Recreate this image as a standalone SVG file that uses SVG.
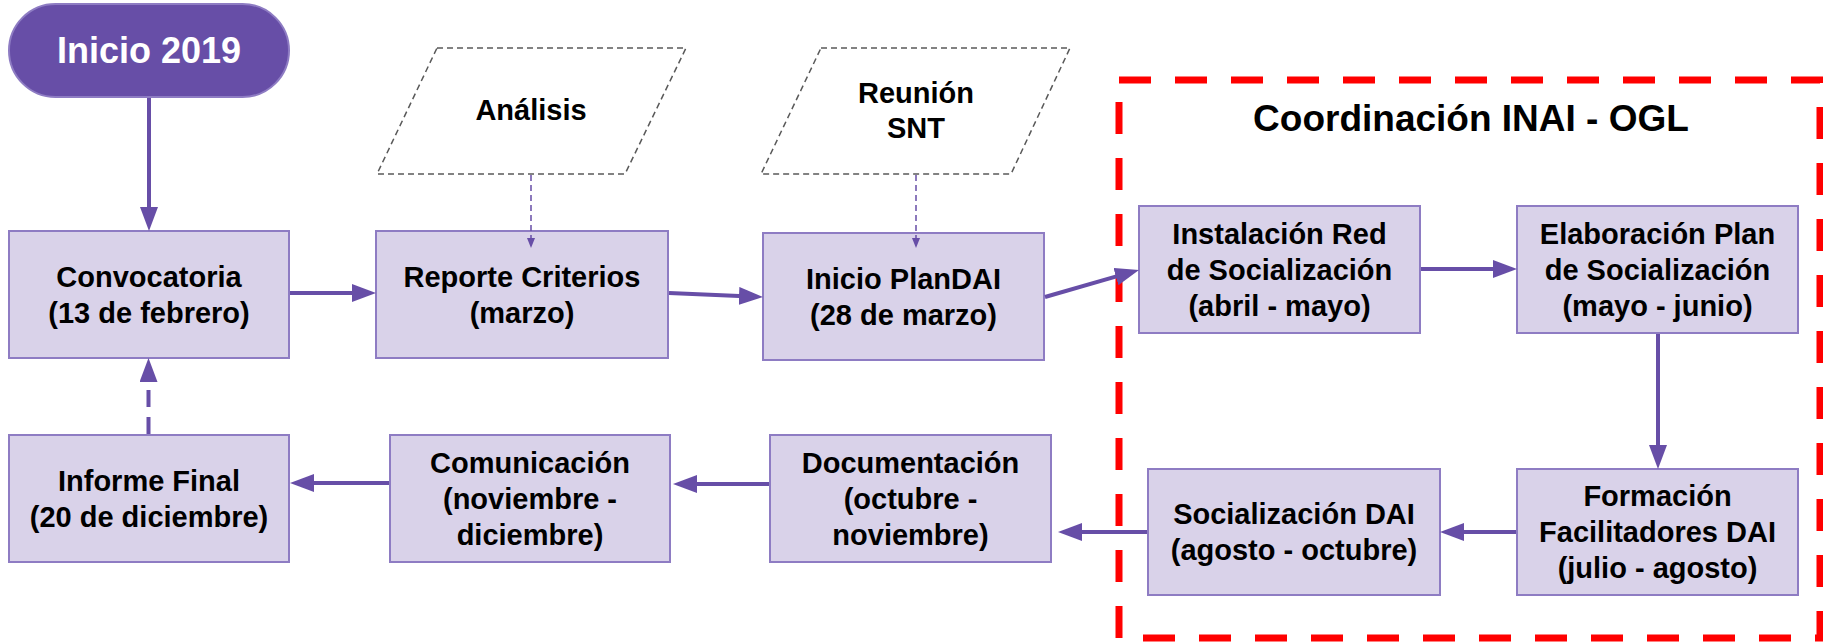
<svg xmlns="http://www.w3.org/2000/svg" width="1823" height="643" viewBox="0 0 1823 643">
<style>
.box{fill:#d9d2e9;stroke:#8e7cc3;stroke-width:2}
.t{font-family:"Liberation Sans",Arial,sans-serif;font-weight:bold;font-size:29px;text-anchor:middle;fill:#000}
.conn{stroke:#674ea7;stroke-width:4;fill:none}
.thin{stroke:#674ea7;stroke-width:1.5;fill:none;stroke-dasharray:6 4}
.para{fill:#fff;stroke:#595959;stroke-width:1.5;stroke-dasharray:6 4}
</style>
<defs>
<marker id="ah" markerUnits="userSpaceOnUse" markerWidth="24" markerHeight="18" refX="6" refY="9" orient="auto"><path d="M0,0 L24,9 L0,18 z" fill="#674ea7"/></marker>
<marker id="ahs" markerUnits="userSpaceOnUse" markerWidth="10" markerHeight="8" refX="2" refY="4" orient="auto"><path d="M0,0 L10,4 L0,8 z" fill="#674ea7"/></marker>
</defs>

<rect x="1119" y="80" width="701" height="558" fill="none" stroke="#ff0000" stroke-width="7" stroke-dasharray="32 24"/>
<text class="t" x="1471" y="131" style="font-size:37px">Coordinación INAI - OGL</text>

<g id="inicio">
<rect x="9" y="4" width="280" height="93" rx="46.5" fill="#674ea7" stroke="#8e7cc3" stroke-width="2"/>
<text class="t" x="149" y="63" style="font-size:36px;fill:#fff">Inicio 2019</text>
</g>

<g id="analisis">
<polygon class="para" points="437,48 686,48 625,174 377,174"/>
<text class="t" x="531" y="120">Análisis</text>
</g>

<g id="reunion">
<polygon class="para" points="821,48 1070,48 1011,174 761,174"/>
<text class="t" x="916" y="103">Reunión</text>
<text class="t" x="916" y="138">SNT</text>
</g>

<g id="convocatoria">
<rect class="box" x="9" y="231" width="280" height="127"/>
<text class="t" x="149" y="286.5">Convocatoria</text>
<text class="t" x="149" y="322.5">(13 de febrero)</text>
</g>

<g id="reporte">
<rect class="box" x="376" y="231" width="292" height="127"/>
<text class="t" x="522" y="286.5">Reporte Criterios</text>
<text class="t" x="522" y="322.5">(marzo)</text>
</g>

<g id="plandai">
<rect class="box" x="763" y="233" width="281" height="127"/>
<text class="t" x="903.5" y="288.5">Inicio PlanDAI</text>
<text class="t" x="903.5" y="324.5">(28 de marzo)</text>
</g>

<g id="instalacion">
<rect class="box" x="1139" y="206" width="281" height="127"/>
<text class="t" x="1279.5" y="243.5">Instalación Red</text>
<text class="t" x="1279.5" y="279.5">de Socialización</text>
<text class="t" x="1279.5" y="315.5">(abril - mayo)</text>
</g>

<g id="elaboracion">
<rect class="box" x="1517" y="206" width="281" height="127"/>
<text class="t" x="1657.5" y="243.5">Elaboración Plan</text>
<text class="t" x="1657.5" y="279.5">de Socialización</text>
<text class="t" x="1657.5" y="315.5">(mayo - junio)</text>
</g>

<g id="formacion">
<rect class="box" x="1517" y="469" width="281" height="126"/>
<text class="t" x="1657.5" y="506">Formación</text>
<text class="t" x="1657.5" y="542">Facilitadores DAI</text>
<text class="t" x="1657.5" y="578">(julio - agosto)</text>
</g>

<g id="socializacion">
<rect class="box" x="1148" y="469" width="292" height="126"/>
<text class="t" x="1294" y="524">Socialización DAI</text>
<text class="t" x="1294" y="560">(agosto - octubre)</text>
</g>

<g id="documentacion">
<rect class="box" x="770" y="435" width="281" height="127"/>
<text class="t" x="910.5" y="472.5">Documentación</text>
<text class="t" x="910.5" y="508.5">(octubre -</text>
<text class="t" x="910.5" y="544.5">noviembre)</text>
</g>

<g id="comunicacion">
<rect class="box" x="390" y="435" width="280" height="127"/>
<text class="t" x="530" y="472.5">Comunicación</text>
<text class="t" x="530" y="508.5">(noviembre -</text>
<text class="t" x="530" y="544.5">diciembre)</text>
</g>

<g id="informe">
<rect class="box" x="9" y="435" width="280" height="127"/>
<text class="t" x="149" y="490.5">Informe Final</text>
<text class="t" x="149" y="526.5">(20 de diciembre)</text>
</g>

<g id="connectors">
<line class="conn" x1="149" y1="98" x2="149" y2="213" marker-end="url(#ah)"/>
<line class="conn" x1="290" y1="293" x2="358" y2="293" marker-end="url(#ah)"/>
<line class="conn" x1="669" y1="293" x2="745" y2="296.2" marker-end="url(#ah)"/>
<line class="conn" x1="1045" y1="297" x2="1121.7" y2="274.9" marker-end="url(#ah)"/>
<line class="conn" x1="1421" y1="269" x2="1499" y2="269" marker-end="url(#ah)"/>
<line class="conn" x1="1658" y1="334" x2="1658" y2="451" marker-end="url(#ah)"/>
<line class="conn" x1="1516" y1="532" x2="1458" y2="532" marker-end="url(#ah)"/>
<line class="conn" x1="1147" y1="532" x2="1076" y2="532" marker-end="url(#ah)"/>
<line class="conn" x1="769" y1="484" x2="691" y2="484" marker-end="url(#ah)"/>
<line class="conn" x1="389" y1="483" x2="308" y2="483" marker-end="url(#ah)"/>
<line class="conn" x1="148.5" y1="434" x2="148.5" y2="376" stroke-dasharray="17 10" marker-end="url(#ah)"/>
<line class="thin" x1="531" y1="175" x2="531" y2="240" marker-end="url(#ahs)"/>
<line class="thin" x1="916" y1="175" x2="916" y2="240" marker-end="url(#ahs)"/>
</g>
</svg>
